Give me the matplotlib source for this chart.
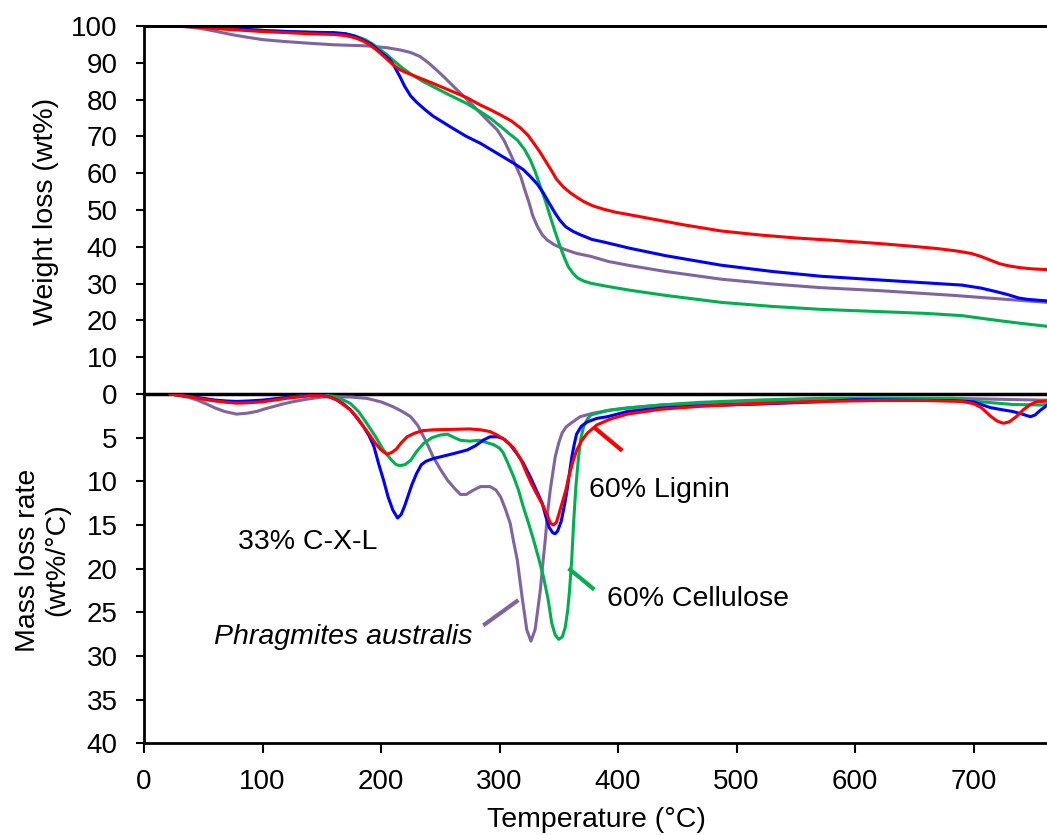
import matplotlib
matplotlib.use("Agg")
import matplotlib.pyplot as plt

plt.rcParams['font.family'] = ['Liberation Sans', 'DejaVu Sans']

# ---------------- TG: weight remaining (wt%) ----------------
t_tg_lignin = [22, 40, 60, 80, 100, 120, 140, 160, 170, 178, 185, 191, 198, 205, 210, 216, 223, 230, 244,
               258, 272, 284, 292, 301, 310, 318, 324, 329, 334, 339, 344, 348, 354, 360, 366, 371, 379,
               388, 398, 410, 430, 455, 487, 520, 550, 580, 620, 650, 670, 685, 698, 706, 714, 722, 730,
               740, 750, 762]
tg_lignin = [100, 99.8, 99.3, 98.9, 98.5, 98.2, 97.9, 97.7, 97.4, 96.8, 95.9, 94.8, 93.0, 91.0, 89.5, 88.1,
             87.1, 86.2, 84.4, 82.5, 80.6, 78.5, 77.3, 75.8, 74.2, 72.2, 70.3, 68.1, 65.8, 63.2, 60.6,
             58.4, 56.2, 54.6, 53.3, 52.3, 51.1, 50.2, 49.4, 48.7, 47.5, 46.0, 44.3, 43.2, 42.4, 41.8,
             40.9, 40.1, 39.5, 38.9, 38.2, 37.4, 36.4, 35.4, 34.8, 34.3, 34.0, 33.8]

t_tg_cxl = [22, 40, 60, 80, 100, 120, 140, 160, 170, 178, 186, 192, 197, 202, 207, 211, 216, 220, 225, 230,
            237, 244, 258, 272, 284, 298, 312, 320, 326, 332, 337, 342, 347, 351, 356, 362, 368, 378, 388,
            410, 440, 487, 530, 571, 620, 660, 690, 706, 718, 729, 738, 746, 762]
tg_cxl = [100, 99.9, 99.6, 99.2, 98.8, 98.5, 98.3, 98.2, 97.9, 97.2, 96.0, 95.0, 93.6, 92.3, 91.0, 89.2,
          86.2, 83.6, 81.0, 79.3, 77.3, 75.5, 72.7, 70.0, 68.1, 65.4, 62.7, 61.0, 59.1, 57.0, 54.6, 51.8,
          49.1, 47.2, 45.4, 44.2, 43.3, 42.0, 41.3, 39.6, 37.6, 35.0, 33.3, 32.0, 31.0, 30.2, 29.6, 28.8,
          27.9, 27.0, 26.1, 25.7, 25.3]

t_tg_cell = [22, 40, 60, 80, 100, 120, 140, 160, 170, 178, 186, 192, 198, 205, 211, 218, 225, 235, 244, 258,
             272, 284, 292, 301, 308, 315, 321, 326, 330, 334, 339, 343, 347, 351, 355, 358, 362, 366, 371,
             377, 390, 410, 440, 487, 530, 571, 620, 660, 690, 706, 720, 740, 762]
tg_cell = [100, 99.9, 99.6, 99.2, 98.8, 98.5, 98.3, 98.1, 97.9, 97.3, 96.4, 95.3, 93.9, 92.2, 90.5, 88.6,
           87.0, 85.0, 83.5, 81.2, 79.0, 76.7, 75.0, 72.7, 70.8, 69.0, 66.5, 63.6, 60.5, 56.8, 52.2, 48.0,
           44.0, 40.2, 36.8, 34.6, 32.8, 31.5, 30.7, 30.1, 29.3, 28.2, 26.8, 24.9, 23.8, 23.0, 22.4, 21.9,
           21.3, 20.6, 20.0, 19.2, 18.4]

t_tg_phrag = [22, 35, 47, 60, 75, 88, 100, 118, 140, 160, 188, 205, 216, 225, 233, 240, 247, 253, 263, 273,
              284, 291, 298, 304, 309, 314, 318, 321, 325, 328, 332, 336, 340, 346, 354, 365, 377, 392, 410,
              440, 487, 530, 571, 620, 683, 720, 762]
tg_phrag = [100, 99.8, 99.4, 98.6, 97.6, 96.9, 96.3, 95.8, 95.3, 94.9, 94.6, 94.1, 93.5, 92.8, 91.7, 90.0,
            88.0, 86.2, 83.0, 79.9, 76.3, 74.0, 71.8, 68.8, 65.4, 61.8, 59.0, 55.8, 51.9, 48.5, 45.5, 43.3,
            41.9, 40.6, 39.4, 38.2, 37.4, 36.0, 34.9, 33.3, 31.2, 29.9, 28.9, 28.1, 26.8, 25.9, 24.9]

# ---------------- DTG: mass loss rate (wt%/°C) ----------------
t_dtg_lignin = [22, 30, 40, 50, 60, 70, 78, 88, 100, 110, 120, 130, 140, 150, 157, 163, 168, 174, 180, 185,
                190, 195, 200, 205, 209, 213, 217, 222, 228, 235, 244, 260, 275, 284, 292, 298, 305, 312,
                318, 323, 327, 332, 336, 340, 343, 345.5, 348, 353, 356, 358, 362, 365, 369, 374, 382, 393,
                408, 436, 470, 520, 571, 620, 660, 690, 700, 707, 714, 720, 725, 730, 736, 742, 748, 753,
                762]
dtg_lignin = [0, 0.15, 0.35, 0.6, 0.8, 0.95, 1.05, 1.0, 0.9, 0.7, 0.5, 0.35, 0.2, 0.2, 0.35, 0.7, 1.2, 1.8,
              2.7, 3.7, 4.6, 5.6, 6.4, 6.9, 6.7, 6.3, 5.6, 4.9, 4.5, 4.2, 4.1, 4.05, 4.0, 4.1, 4.3, 4.7,
              5.3, 6.2, 7.5, 9.1, 10.3, 11.6, 12.6, 13.8, 14.8, 15.0, 14.7, 12.4, 11.0, 9.7, 7.7, 6.5, 5.4,
              4.5, 3.55, 2.9, 2.3, 1.75, 1.4, 1.07, 0.85, 0.75, 0.75, 0.85, 1.1, 1.6, 2.5, 3.1, 3.35, 3.2,
              2.6, 1.8, 1.2, 0.9, 0.8]

t_dtg_cxl = [22, 30, 40, 50, 60, 70, 78, 88, 100, 110, 120, 130, 140, 150, 157, 163, 168, 174, 180, 185, 190,
             194, 198, 202, 206, 210, 214, 217, 220, 223, 226, 230, 234, 238, 244, 250, 262, 273, 280, 286,
             292, 298, 303, 309, 315, 320, 326, 331, 336, 339, 342, 345, 347, 349, 352, 355, 357, 359, 361,
             363, 365, 369, 374, 382, 391, 408, 436, 470, 520, 571, 600, 640, 683, 700, 714, 724, 733, 741,
             748, 752, 756, 762]
dtg_cxl = [0, 0.15, 0.3, 0.5, 0.7, 0.8, 0.85, 0.8, 0.7, 0.55, 0.4, 0.25, 0.15, 0.15, 0.35, 0.7, 1.1, 1.8,
           2.8, 3.7, 4.8, 6.0, 8.0, 9.8, 11.8, 13.3, 14.2, 13.8, 12.8, 11.6, 10.4, 9.1, 8.1, 7.7, 7.4, 7.2,
           6.8, 6.4, 5.9, 5.3, 4.9, 4.9, 5.1, 5.8, 6.9, 7.9, 9.5, 11.0, 12.5, 14.0, 15.3, 15.9, 16.0, 15.7,
           14.6, 12.6, 11.0, 9.1, 7.2, 5.8, 4.6, 3.7, 3.2, 2.8, 2.6, 2.0, 1.6, 1.35, 1.15, 0.88, 0.65, 0.7,
           0.76, 0.9, 1.55, 1.8, 2.0, 2.3, 2.6, 2.4, 1.9, 1.3]

t_dtg_cell = [22, 30, 40, 50, 60, 70, 78, 88, 100, 110, 120, 130, 140, 150, 160, 167, 174, 181, 188, 195,
              202, 209, 213, 216, 220, 225, 230, 236, 243, 250, 256, 262, 267, 275, 283, 290, 295, 300, 303,
              307, 312, 316, 320, 324.5, 328.7, 333, 337, 341, 344, 347, 350, 353, 355.5, 357.5, 359.1, 361,
              362.5, 364.5, 366.7, 368.5, 371, 374, 377, 391, 408, 436, 470, 520, 571, 620, 683, 705, 733,
              757, 762]
dtg_cell = [0, 0.15, 0.35, 0.55, 0.75, 0.9, 0.95, 0.9, 0.8, 0.6, 0.4, 0.25, 0.15, 0.1, 0.25, 0.6, 1.07, 2.0,
            3.36, 4.8, 6.4, 7.6, 8.1, 8.2, 8.1, 7.6, 6.6, 5.65, 5.0, 4.7, 4.6, 5.0, 5.3, 5.4, 5.3, 5.6,
            5.8, 6.2, 6.7, 7.9, 9.5, 11.0, 12.9, 14.8, 16.7, 18.8, 20.9, 23.5, 26.2, 27.6, 28.1, 27.8,
            26.7, 24.8, 22.5, 18.8, 14.8, 10.5, 7.2, 5.2, 3.7, 2.9, 2.4, 1.9, 1.6, 1.26, 0.95, 0.68, 0.5,
            0.45, 0.5, 0.88, 1.2, 1.26, 1.2]

t_dtg_phrag = [22, 30, 38, 45, 52, 60, 68, 78, 87, 95, 102, 109, 117, 125, 137, 150, 160, 175, 188, 200, 210,
               218, 225, 231, 236, 240, 244, 250, 256, 262, 267, 272, 278, 284, 292, 297, 301, 305, 309, 312,
               315, 319, 323, 326.5, 330, 332, 334.4, 336.5, 338.6, 340.5, 342.8, 345, 347, 350, 352.7,
               356, 359.7, 368, 379, 395, 408, 436, 470, 520, 571, 620, 683, 720, 757, 762]
dtg_phrag = [0, 0.15, 0.4, 0.7, 1.1, 1.6, 2.0, 2.3, 2.2, 2.0, 1.7, 1.45, 1.15, 0.9, 0.6, 0.35, 0.3, 0.35,
             0.5, 0.9, 1.45, 2.0, 2.6, 3.6, 4.9, 6.0, 7.2, 8.6, 9.85, 10.8, 11.5, 11.5, 11.0, 10.6, 10.6,
             11.0, 11.8, 13.2, 14.8, 17.0, 19.0, 23.2, 27.0, 28.3, 27.0, 25.0, 22.5, 19.5, 16.7, 13.7,
             11.0, 9.0, 7.2, 5.6, 4.5, 3.8, 3.4, 2.6, 2.2, 1.8, 1.6, 1.26, 1.05, 0.9, 0.6, 0.55, 0.5, 0.6,
             0.7, 0.7]

temp_ticks = [0, 100, 200, 300, 400, 500, 600, 700]
tg_ticks = list(range(0, 101, 10))
dtg_ticks = list(range(5, 41, 5))

RED, BLUE, GREEN, PURPLE = '#FF0000', '#0000FF', '#00B050', '#8064A2'
FS = 20
LW = 2.2

W, H = 1047, 835
fig = plt.figure(figsize=(W / 100, H / 100), dpi=100)

x0 = 144 / W
ax_tg = fig.add_axes([x0, (H - 394) / H, 1 - x0, (394 - 26) / H])
ax_dtg = fig.add_axes([x0, (H - 743.3) / H, 1 - x0, (743.3 - 394) / H])

for ax in (ax_tg, ax_dtg):
    ax.set_xlim(0, 762)
    ax.spines['right'].set_visible(False)
    for s in ax.spines.values():
        s.set_linewidth(2.0)
    ax.tick_params(axis='both', direction='out', length=6, width=1.5,
                   labelsize=FS, pad=13)

line_kw = dict(lw=LW, solid_joinstyle='round', solid_capstyle='round')

# --- weight loss curves ---
ax_tg.plot(t_tg_phrag, tg_phrag, color=PURPLE, **line_kw)
ax_tg.plot(t_tg_cell, tg_cell, color=GREEN, **line_kw)
ax_tg.plot(t_tg_cxl, tg_cxl, color=BLUE, **line_kw)
ax_tg.plot(t_tg_lignin, tg_lignin, color=RED, **line_kw)
ax_tg.set_ylim(0, 100)
ax_tg.set_yticks(tg_ticks)
ax_tg.set_xticks([])
ax_tg.spines['bottom'].set_linewidth(2.5)
ax_tg.spines['bottom'].set_zorder(5)
# frame line along the 100 % level
ax_tg.axhline(100, color='black', lw=2.0, clip_on=False, zorder=6)

# --- mass loss rate curves ---
ax_dtg.plot(t_dtg_phrag, dtg_phrag, color=PURPLE, **line_kw)
ax_dtg.plot(t_dtg_cell, dtg_cell, color=GREEN, **line_kw)
ax_dtg.plot(t_dtg_cxl, dtg_cxl, color=BLUE, **line_kw)
ax_dtg.plot(t_dtg_lignin, dtg_lignin, color=RED, **line_kw)
ax_dtg.set_ylim(40, 0)
ax_dtg.set_yticks(dtg_ticks)
ax_dtg.set_xticks(temp_ticks)
ax_dtg.spines['top'].set_visible(False)
ax_dtg.tick_params(axis='x', length=7.5, pad=11)
ax_dtg.patch.set_alpha(0)

# --- curve labels with leader lines ---
ax_dtg.text(79.4, 17.0, '33% C-X-L', fontsize=FS + 0.5, ha='left', va='center')
ax_dtg.text(59.0, 27.8, 'Phragmites australis', fontsize=FS + 0.5, style='italic',
            ha='left', va='center')
ax_dtg.plot([286.3, 315.9], [26.5, 23.6], color=PURPLE, lw=3, solid_capstyle='butt')
ax_dtg.text(375.7, 11.0, '60% Lignin', fontsize=FS + 0.5, ha='left', va='center')
ax_dtg.plot([380.0, 403.6], [3.84, 6.5], color=RED, lw=3, solid_capstyle='butt')
ax_dtg.text(391.0, 23.5, '60% Cellulose', fontsize=FS + 0.5, ha='left', va='center')
ax_dtg.plot([358.3, 380.0], [19.97, 22.4], color=GREEN, lw=3, solid_capstyle='butt')

# --- axis titles ---
fig.text(46 / W, 1 - 211.7 / H, 'Weight loss (wt%)', rotation=90, fontsize=FS + 0.5,
         ha='center', va='center')
fig.text(43 / W, 1 - 560 / H, 'Mass loss rate\n(wt%/°C)', rotation=90, fontsize=FS + 0.5,
         ha='center', va='center', multialignment='center', linespacing=1.15)
fig.text(596 / W, 1 - 820 / H, 'Temperature (°C)', fontsize=FS + 0.5, ha='center', va='center')

fig.savefig('out.png', dpi=100)
